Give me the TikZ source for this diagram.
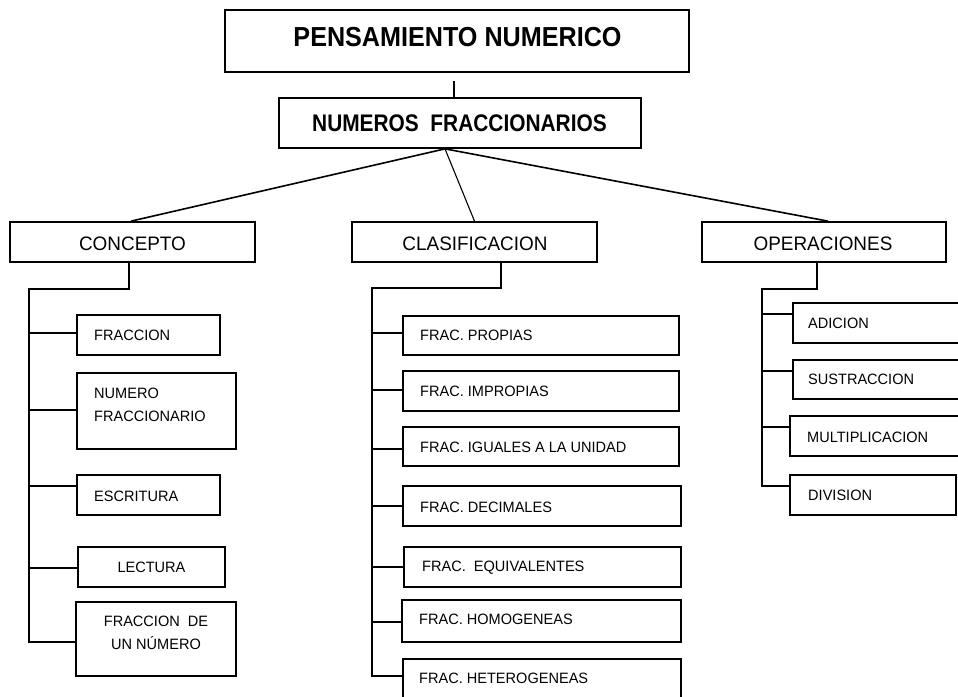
\documentclass[tikz,border=0pt]{standalone}
\usepackage{fontspec}
\setmainfont{Liberation Sans}
\usetikzlibrary{calc}
\begin{document}
\begin{tikzpicture}[x=1pt,y=-1pt,
  box/.style={draw, line width=1.7pt, rectangle, inner sep=0pt},
  conn/.style={line width=1.6pt},
  thinconn/.style={line width=1.1pt},
  tree/.style={line width=1.8pt},
  ttl/.style={inner sep=0pt, text height=19.8pt, text depth=0pt,
    font=\fontsize{27.5}{30}\selectfont\bfseries\addfontfeature{FakeStretch=0.915}},
  sub/.style={inner sep=0pt, text height=17pt, text depth=0pt,
    font=\fontsize{24}{27}\selectfont\bfseries\addfontfeature{FakeStretch=0.87}},
  cat/.style={inner sep=0pt, text height=13.8pt, text depth=0pt,
    font=\fontsize{19.5}{22}\selectfont\addfontfeature{FakeStretch=0.97}},
  lbl/.style={inner sep=0pt, text height=10.7pt, text depth=0pt,
    font=\fontsize{15}{18}\selectfont\addfontfeature{FakeStretch=0.97}},
  lblw/.style={lbl, anchor=west}
]
\useasboundingbox (0,0) rectangle (958,696);
\clip (0,0) rectangle (958,696);

% ---- top levels ----
\node[box, minimum width=464, minimum height=62] (top) at (457,41) {};
\node[ttl] (ttop) at (457.5,37) {PENSAMIENTO NUMERICO};
\node[box, minimum width=362, minimum height=50] (nf) at (460,123) {};
\node[sub] (tnf) at (459.5,123) {NUMEROS\ \ FRACCIONARIOS};

\node[box, minimum width=245, minimum height=40] (concepto) at (132.5,242) {};
\node[cat] (tconcepto) at (132.5,244) {CONCEPTO};
\node[box, minimum width=245, minimum height=40] (clasif) at (474.5,242) {};
\node[cat] (tclasif) at (475,244) {CLASIFICACION};
\node[box, minimum width=244, minimum height=40] (oper) at (824,242) {};
\node[cat] (toper) at (823,244) {OPERACIONES};

\coordinate (tp) at ($(top.south)+(-3,8)$);
\draw[thinconn] (tp) -- (tp |- nf.north);
\coordinate (j) at ($(nf.south)+(-15,0)$);
\draw[conn] (j) -- ($(concepto.north)+(-1.5,0)$);
\draw[thinconn] (j) -- (clasif.north);
\draw[conn] (j) -- ($(oper.north)+(4,0)$);

% ---- CONCEPTO branch ----
\node[box, minimum width=143, minimum height=40] (fraccion) at (148.5,335) {};
\node[lblw] (tfraccion) at (94,335) {FRACCION};
\node[box, minimum width=159, minimum height=76] (numfrac) at (156.5,411) {};
\node[lblw] (tnumfrac1) at (94,393) {NUMERO};
\node[lblw] (tnumfrac2) at (94,416) {FRACCIONARIO};
\node[box, minimum width=143, minimum height=40] (escritura) at (148.5,495) {};
\node[lblw] (tescritura) at (94,496) {ESCRITURA};
\node[box, minimum width=147, minimum height=40] (lectura) at (151.5,567) {};
\node[lbl] (tlectura) at (151.5,567) {LECTURA};
\node[box, minimum width=160, minimum height=74] (fdun) at (156,639) {};
\node[lbl] (tfdun1) at (156,621) {FRACCION\ \ DE};
\node[lbl] (tfdun2) at (156,644) {UN NÚMERO};

\coordinate (cs) at (29,289);
\coordinate (cb1) at ($(fraccion.west)+(0,-2)$);
\coordinate (cb2) at ($(numfrac.west)+(0,-1)$);
\coordinate (cb3) at ($(escritura.west)+(0,-9)$);
\coordinate (cb4) at ($(lectura.west)+(0,1)$);
\coordinate (cb5) at ($(fdun.west)+(0,3)$);
\draw[tree] ($(concepto.south)+(-3.5,0)$) |- (cs) -- (cs |- cb5) -- (cb5);
\foreach \b in {cb1,cb2,cb3,cb4} \draw[tree] (cs |- \b) -- (\b);

% ---- CLASIFICACION branch ----
\node[box, minimum width=276, minimum height=39] (propias) at (541,335.5) {};
\node[lblw] (tpropias) at (420,335) {FRAC. PROPIAS};
\node[box, minimum width=276, minimum height=40] (impropias) at (541,391) {};
\node[lblw] (timpropias) at (420,391) {FRAC. IMPROPIAS};
\node[box, minimum width=276, minimum height=39] (iguales) at (541,446.5) {};
\node[lblw] (tiguales) at (420,447) {FRAC. IGUALES A LA UNIDAD};
\node[box, minimum width=278, minimum height=40] (decimales) at (542,506) {};
\node[lblw] (tdecimales) at (420,507) {FRAC. DECIMALES};
\node[box, minimum width=277, minimum height=40] (equiv) at (542.5,567) {};
\node[lblw] (tequiv) at (422,566) {FRAC.\ \ EQUIVALENTES};
\node[box, minimum width=279, minimum height=42] (homog) at (541.5,621) {};
\node[lblw] (thomog) at (419,619) {FRAC. HOMOGENEAS};
\node[box, minimum width=278, minimum height=54] (heterog) at (542,686) {};
\node[lblw] (theterog) at (419,678) {FRAC. HETEROGENEAS};

\coordinate (ks) at (372,288);
\coordinate (kb1) at ($(propias.west)+(0,-2.5)$);
\coordinate (kb2) at ($(impropias.west)+(0,-1)$);
\coordinate (kb3) at ($(iguales.west)+(0,2.5)$);
\coordinate (kb4) at (decimales.west);
\coordinate (kb5) at (equiv.west);
\coordinate (kb6) at ($(homog.west)+(0,1)$);
\coordinate (kb7) at ($(heterog.west)+(0,-10)$);
\draw[tree] ($(clasif.south)+(26.5,0)$) |- (ks) -- (ks |- kb7) -- (kb7);
\foreach \b in {kb1,kb2,kb3,kb4,kb5,kb6} \draw[tree] (ks |- \b) -- (\b);

% ---- OPERACIONES branch ----
\node[box, minimum width=182, minimum height=40] (adicion) at (884,323) {};
\node[lblw] (tadicion) at (808,323) {ADICION};
\node[box, minimum width=182, minimum height=39] (sustr) at (884,379.5) {};
\node[lblw] (tsustr) at (808,379) {SUSTRACCION};
\node[box, minimum width=185, minimum height=40] (mult) at (882.5,436) {};
\node[lblw] (tmult) at (807,437) {MULTIPLICACION};
\node[box, minimum width=166, minimum height=40] (division) at (873,495) {};
\node[lblw] (tdivision) at (808,495) {DIVISION};

\coordinate (os) at (762,289);
\coordinate (ob1) at ($(adicion.west)+(0,-9)$);
\coordinate (ob2) at ($(sustr.west)+(0,-8.5)$);
\coordinate (ob3) at ($(mult.west)+(0,-9)$);
\coordinate (ob4) at ($(division.west)+(0,-9)$);
\draw[tree] ($(oper.south)+(-7,0)$) |- (os) -- (os |- ob4) -- (ob4);
\foreach \b in {ob1,ob2,ob3} \draw[tree] (os |- \b) -- (\b);
\end{tikzpicture}
\end{document}
